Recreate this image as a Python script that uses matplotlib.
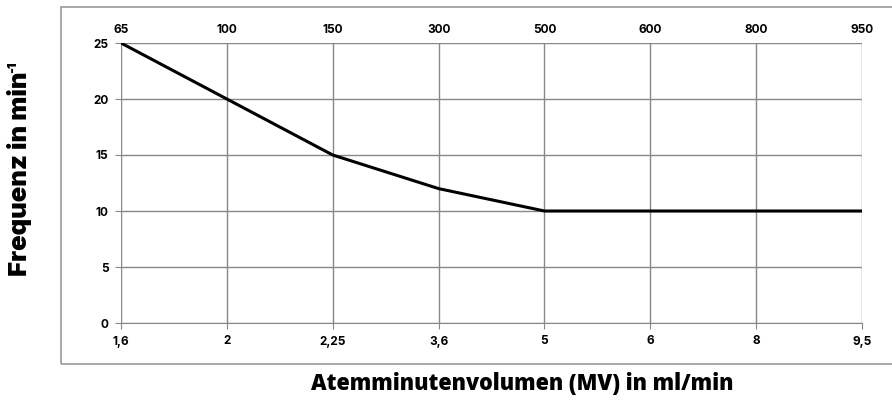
import matplotlib
matplotlib.use("Agg")
import matplotlib.pyplot as plt
from matplotlib.patches import Rectangle

# data
mv_labels = ["1,6", "2", "2,25", "3,6", "5", "6", "8", "9,5"]
weight_labels = ["65", "100", "150", "300", "500", "600", "800", "950"]
frequency = [25, 20, 15, 12, 10, 10, 10, 10]
y_ticks = [0, 5, 10, 15, 20, 25]

plt.rcParams['font.family'] = ['Inter', 'DejaVu Sans']

fig = plt.figure(figsize=(8.92, 4.0), dpi=100)
ax = fig.add_axes([121/892, 1 - 323/400, (862 - 121)/892, (323 - 43)/400])

# outer chart frame
fig.patches.append(Rectangle((61/892, 1 - 364/400), 1 - 61/892 + 0.01, (364 - 7)/400,
                             transform=fig.transFigure, fill=False,
                             edgecolor="#999999", linewidth=1.2))

pos = list(range(len(mv_labels)))
ax.plot(pos, frequency, color="black", linewidth=2.2, solid_capstyle="butt", zorder=3)

ax.set_xlim(0, len(pos) - 1)
ax.set_ylim(0, 25)
ax.set_xticks(pos)
ax.set_xticklabels(mv_labels, fontsize=8.5, fontweight="bold")
ax.set_yticks(y_ticks)
ax.set_yticklabels([str(v) for v in y_ticks], fontsize=8.5, fontweight="bold")
ax.grid(True, color="#888888", linewidth=1)
for s in ax.spines.values():
    s.set_visible(False)
ax.spines["bottom"].set_visible(True)
ax.spines["bottom"].set_color("#888888")
ax.tick_params(axis="x", length=4, color="#888888", pad=5)
ax.tick_params(axis="y", length=4, color="#888888", pad=5)

top = ax.twiny()
top.set_xlim(ax.get_xlim())
top.set_xticks(pos)
top.set_xticklabels(weight_labels, fontsize=8.5, fontweight="bold")
top.tick_params(axis="x", length=0, pad=5)
for s in top.spines.values():
    s.set_visible(False)

fig.text(20/892, 1 - 174/400, "Frequenz in min", rotation=90,
         ha="center", va="center", fontsize=18.5, fontweight=900)
fig.text(13/892, 1 - 67/400, "-1", rotation=90,
         ha="center", va="center", fontsize=9, fontweight=900)
fig.text(522/892, 1 - 384/400, "Atemminutenvolumen (MV) in ml/min",
         ha="center", va="center", fontsize=15.5, fontweight=800,
         family=["Open Sans", "Inter"])

fig.savefig("out.png", dpi=100)
